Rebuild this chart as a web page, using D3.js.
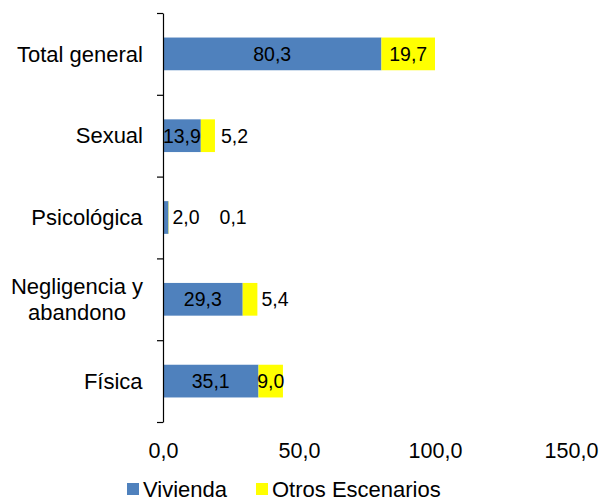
<!DOCTYPE html>
<html>
<head>
<meta charset="utf-8">
<script src="https://cdn.jsdelivr.net/npm/d3@7"></script>
<style>
  body { margin: 0; background: #fff; }
  svg text { font-family: "Liberation Sans", Arial, sans-serif; fill: #000; }
</style>
</head>
<body>
<div id="chart"></div>
<script>
// data, top to bottom
const categories = ["Total general", "Sexual", "Psicológica", "Negligencia y abandono", "Física"];
const vivienda = [80.3, 13.9, 2.0, 29.3, 35.1];
const otros = [19.7, 5.2, 0.1, 5.4, 9.0];
const seriesNames = ["Vivienda", "Otros Escenarios"];
const seriesColors = ["#4F81BD", "#FFFF00"];
const xTicks = [0, 50, 100, 150];

const W = 612, H = 501;
const plot = { left: 163, right: 571, top: 13, bottom: 422 };
const fmt = d => d.toFixed(1).replace(".", ",");

const svg = d3.select("#chart").append("svg")
    .attr("width", W)
    .attr("height", H);

const x = d3.scaleLinear().domain([0, 150]).range([plot.left, plot.right]);
const y = d3.scaleBand().domain(categories).range([plot.top, plot.bottom]).paddingInner(0.6).paddingOuter(0.3);
const yEdge = d3.scaleLinear().domain([0, categories.length]).range([plot.top, plot.bottom]);

// stacked rows
const rows = categories.map((c, i) => ({ cat: c, vals: [vivienda[i], otros[i]] }));

rows.forEach(r => {
    let x0 = 0;
    const g = svg.append("g");
    const segs = r.vals.map((v, k) => {
        const s = { k, v, x0, x1: x0 + v };
        x0 += v;
        return s;
    });
    g.selectAll("rect").data(segs).enter().append("rect")
        .attr("x", d => x(d.x0))
        .attr("y", y(r.cat))
        .attr("width", d => x(d.x1) - x(d.x0))
        .attr("height", y.bandwidth())
        .attr("fill", d => seriesColors[d.k]);

    // labels: centered if they fit, otherwise just after the segment, and never overlapping
    let prevEnd = -Infinity;
    segs.forEach(s => {
        const t = g.append("text")
            .attr("y", y(r.cat) + y.bandwidth() / 2)
            .attr("dy", "0.35em")
            .style("font-size", "19.5px")
            .text(fmt(s.v));
        const w = t.node().getComputedTextLength();
        const segW = x(s.x1) - x(s.x0);
        const fits = w <= segW + 4;
        let start = fits ? (x(s.x0) + x(s.x1)) / 2 - w / 2 : x(s.x1) + 4;
        if (!fits && prevEnd > -Infinity) start = Math.max(start, prevEnd + 20);
        else if (start < prevEnd) start = prevEnd + 2;
        t.attr("x", start);
        prevEnd = start + w;
    });
});

// y axis with ticks on category boundaries
const yAxis = d3.axisLeft(yEdge)
    .tickValues(d3.range(categories.length + 1))
    .tickFormat("")
    .tickSize(6)
    .tickSizeOuter(0);
const ya = svg.append("g")
    .attr("transform", "translate(" + plot.left + ",0)")
    .call(yAxis);
ya.selectAll("path, line").attr("stroke", "#000").attr("stroke-width", 1.2);

// category labels
categories.forEach(c => {
    const cy = y(c) + y.bandwidth() / 2;
    const lines = c === "Negligencia y abandono" ? ["Negligencia y", "abandono"] : [c];
    const t = svg.append("text")
        .attr("text-anchor", "middle")
        .style("font-size", "22px");
    lines.forEach((ln, i) => {
        t.append("tspan")
            .attr("x", 0)
            .attr("y", cy + (i - (lines.length - 1) / 2) * 26)
            .attr("dy", "0.35em")
            .text(ln);
    });
    const w = t.node().getBBox().width;
    t.selectAll("tspan").attr("x", 143 - w / 2);
});

// x axis labels (no axis line)
const xa = svg.append("g")
    .attr("transform", "translate(0," + 440 + ")")
    .call(d3.axisBottom(x).tickValues(xTicks).tickFormat(fmt).tickSize(0));
xa.select(".domain").remove();
xa.selectAll("text")
    .style("font-size", "21.5px")
    .style("font-family", "'Liberation Sans', Arial, sans-serif");

// legend
const legend = svg.append("g").attr("transform", "translate(127,483)");
const legX = [0, 129];
seriesNames.forEach((n, i) => {
    legend.append("rect")
        .attr("x", legX[i])
        .attr("y", 0)
        .attr("width", 12)
        .attr("height", 12)
        .attr("fill", seriesColors[i]);
    legend.append("text")
        .attr("x", legX[i] + 16)
        .attr("y", 6)
        .attr("dy", "0.35em")
        .style("font-size", "22px")
        .text(n);
});
</script>
</body>
</html>
